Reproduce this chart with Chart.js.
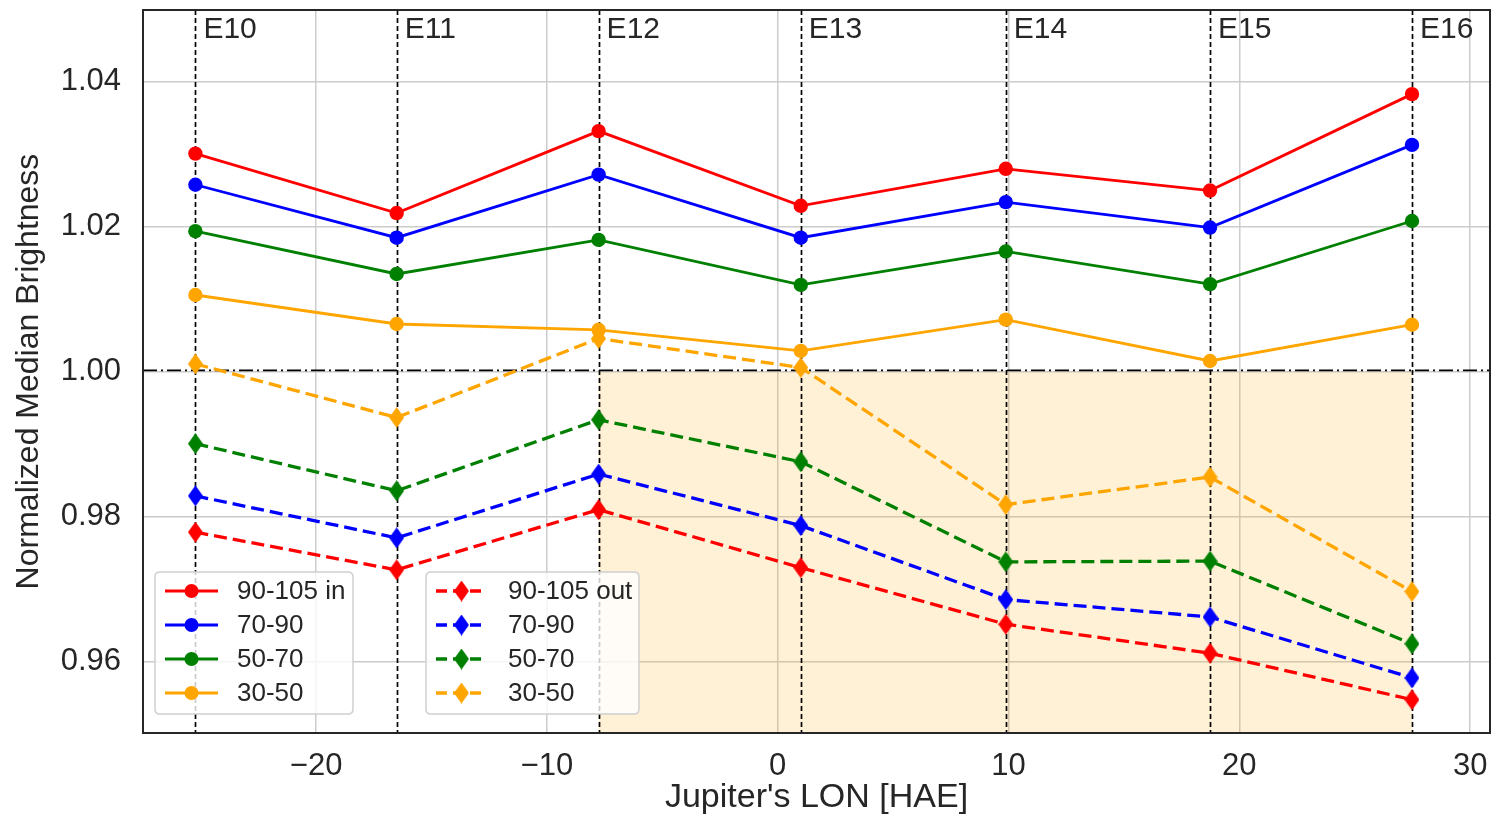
<!DOCTYPE html>
<html>
<head>
<meta charset="utf-8">
<script src="https://cdn.jsdelivr.net/npm/chart.js@4.4.0/dist/chart.umd.min.js"></script>
<style>
  body { margin: 0; background: #fff; }
  canvas { display: block; }
</style>
</head>
<body>
<canvas id="brightness-chart" width="1491" height="818"></canvas>
<script>
// flyby longitudes and names
var lon = [-25.23, -16.51, -7.76, 1.0, 9.88, 18.73, 27.48];
var flybys = ["E10", "E11", "E12", "E13", "E14", "E15", "E16"];

// inside (solid) series
var in90_105 = [1.0301, 1.0219, 1.0332, 1.0229, 1.0280, 1.0250, 1.0383];
var in70_90  = [1.0258, 1.0185, 1.0272, 1.0185, 1.0234, 1.0199, 1.0313];
var in50_70  = [1.0194, 1.0135, 1.0182, 1.0120, 1.0166, 1.0121, 1.0208];
var in30_50  = [1.0106, 1.0066, 1.0058, 1.0029, 1.0072, 1.0015, 1.0065];

// outside (dashed) series
var out90_105 = [0.9779, 0.9727, 0.9810, 0.9730, 0.9652, 0.9612, 0.9548];
var out70_90  = [0.9829, 0.9771, 0.9859, 0.9788, 0.9686, 0.9662, 0.9578];
var out50_70  = [0.9901, 0.9836, 0.9934, 0.9876, 0.9738, 0.9739, 0.9625];
var out30_50  = [1.0011, 0.9937, 1.0046, 1.0006, 0.9817, 0.9855, 0.9697];

var inLabels  = ["90-105 in", "70-90", "50-70", "30-50"];
var outLabels = ["90-105 out", "70-90", "50-70", "30-50"];
var colors = ["#ff0000", "#0000ff", "#008000", "#ffa500"];

var xTicks = [-20, -10, 0, 10, 20, 30];
var yTicks = [0.96, 0.98, 1.00, 1.02, 1.04];
var shadeFrom = 2, shadeTo = 6;   // index range of the shaded band below 1.0

var FONT = "'Liberation Sans', Arial, sans-serif";
var TXT = "#262626";
var DASH = [13, 6];

function toPoints(vals) {
    return vals.map(function (v, i) { return { x: lon[i], y: v }; });
}

// thin diamond marker like matplotlib 'd'
function makeDiamond(color) {
    var c = document.createElement("canvas");
    c.width = 15; c.height = 21;
    var g = c.getContext("2d");
    g.fillStyle = color;
    g.beginPath();
    g.moveTo(7.5, 0); g.lineTo(15, 10.5); g.lineTo(7.5, 21); g.lineTo(0, 10.5);
    g.closePath();
    g.fill();
    return c;
}
var diamonds = colors.map(makeDiamond);

var inSeries = [in90_105, in70_90, in50_70, in30_50];
var outSeries = [out90_105, out70_90, out50_70, out30_50];

var datasets = [];
inSeries.forEach(function (s, i) {
    datasets.push({
        label: inLabels[i],
        data: toPoints(s),
        borderColor: colors[i],
        backgroundColor: colors[i],
        borderWidth: 2.8,
        pointRadius: 7.2,
        pointHoverRadius: 7.2,
        pointStyle: "circle",
        pointBorderWidth: 0
    });
});
outSeries.forEach(function (s, i) {
    datasets.push({
        label: outLabels[i],
        data: toPoints(s),
        borderColor: colors[i],
        backgroundColor: colors[i],
        borderWidth: 3.3,
        borderDash: DASH,
        pointStyle: diamonds[i],
        pointRadius: 8,
        pointHoverRadius: 8
    });
});

// shading, flyby lines, unity line
var backdrop = {
    id: "backdrop",
    beforeDatasetsDraw: function (chart) {
        var ctx = chart.ctx, a = chart.chartArea;
        var xs = chart.scales.x, ys = chart.scales.y;
        ctx.save();
        ctx.beginPath();
        ctx.rect(a.left, a.top, a.right - a.left, a.bottom - a.top);
        ctx.clip();

        var x0 = xs.getPixelForValue(lon[shadeFrom]);
        var x1 = xs.getPixelForValue(lon[shadeTo]);
        var y1 = ys.getPixelForValue(1.0);
        ctx.fillStyle = "rgba(255,165,0,0.16)";
        ctx.fillRect(x0, y1, x1 - x0, a.bottom - y1);

        ctx.strokeStyle = "#000";
        ctx.lineWidth = 1.7;
        ctx.setLineDash([5, 3]);
        lon.forEach(function (v) {
            var px = Math.round(xs.getPixelForValue(v)) + 0.5;
            ctx.beginPath();
            ctx.moveTo(px, a.top);
            ctx.lineTo(px, a.bottom);
            ctx.stroke();
        });

        ctx.setLineDash([14, 4, 2, 4]);
        ctx.lineWidth = 1.6;
        ctx.beginPath();
        ctx.moveTo(a.left, y1 - 1.5);
        ctx.lineTo(a.right, y1 - 1.5);
        ctx.stroke();
        ctx.restore();

        ctx.save();
        ctx.fillStyle = TXT;
        ctx.font = "30px " + FONT;
        ctx.textBaseline = "middle";
        ctx.textAlign = "left";
        lon.forEach(function (v, i) {
            ctx.fillText(flybys[i], xs.getPixelForValue(v) + 8, a.top + 20);
        });
        ctx.restore();
    },
    afterDraw: function (chart) {
        var ctx = chart.ctx, a = chart.chartArea;
        ctx.save();
        // two legend boxes
        drawLegend(ctx, a.left + 12, a.bottom - 161, 198, inLabels, false);
        drawLegend(ctx, a.left + 283, a.bottom - 161, 213, outLabels, true);
        // frame
        ctx.strokeStyle = TXT;
        ctx.lineWidth = 2;
        ctx.setLineDash([]);
        ctx.strokeRect(a.left, a.top, a.right - a.left, a.bottom - a.top);
        ctx.restore();
    }
};

function roundRect(ctx, x, y, w, h, r) {
    ctx.beginPath();
    ctx.moveTo(x + r, y);
    ctx.lineTo(x + w - r, y);
    ctx.quadraticCurveTo(x + w, y, x + w, y + r);
    ctx.lineTo(x + w, y + h - r);
    ctx.quadraticCurveTo(x + w, y + h, x + w - r, y + h);
    ctx.lineTo(x + r, y + h);
    ctx.quadraticCurveTo(x, y + h, x, y + h - r);
    ctx.lineTo(x, y + r);
    ctx.quadraticCurveTo(x, y, x + r, y);
    ctx.closePath();
}

function drawLegend(ctx, x, y, w, labels, dashed) {
    var h = 142;
    roundRect(ctx, x, y, w, h, 5);
    ctx.fillStyle = "rgba(255,255,255,0.8)";
    ctx.fill();
    ctx.strokeStyle = "#d0d0d0";
    ctx.lineWidth = 1.5;
    ctx.setLineDash([]);
    ctx.stroke();

    labels.forEach(function (lab, i) {
        var ry = y + 19 + i * 34;
        var lx0 = x + 10, lx1 = x + (dashed ? 61 : 63);
        var mx = (lx0 + lx1) / 2;
        ctx.strokeStyle = colors[i];
        ctx.lineWidth = dashed ? 3.3 : 2.8;
        ctx.setLineDash(dashed ? [11, 6] : []);
        ctx.beginPath();
        ctx.moveTo(lx0, ry);
        ctx.lineTo(lx1, ry);
        ctx.stroke();
        ctx.setLineDash([]);
        if (dashed) {
            ctx.drawImage(diamonds[i], mx - 7.5, ry - 10.5);
        } else {
            ctx.fillStyle = colors[i];
            ctx.beginPath();
            ctx.arc(mx, ry, 7, 0, Math.PI * 2);
            ctx.fill();
        }
        ctx.fillStyle = TXT;
        ctx.font = "26px " + FONT;
        ctx.textBaseline = "middle";
        ctx.textAlign = "left";
        ctx.fillText(lab, x + 82, ry + 1);
    });
}

function noPad(s) {
    s.paddingTop = 0; s.paddingBottom = 0;
    s.paddingLeft = 0; s.paddingRight = 0;
}

var chartOptions = {
    responsive: false,
    animation: false,
    layout: { autoPadding: false, padding: { top: 10, right: 1, left: 0, bottom: 0 } },
    plugins: {
        legend: { display: false },
        tooltip: { enabled: false }
    },
    scales: {
        x: {
            type: "linear",
            min: -27.5,
            max: 30.86,
            afterBuildTicks: function (s) { s.ticks = xTicks.map(function (v) { return { value: v }; }); },
            afterFit: function (s) { s.height = 85; noPad(s); },
            grid: { color: "#cccccc", lineWidth: 1.5, drawTicks: false },
            border: { display: false },
            ticks: {
                color: TXT,
                padding: 15,
                font: { family: FONT, size: 31 },
                callback: function (v) { return String(v).replace("-", "\u2212"); }
            },
            title: {
                display: true,
                text: "Jupiter's LON [HAE]",
                color: TXT,
                font: { family: FONT, size: 34 },
                padding: { top: 0, bottom: 0 }
            }
        },
        y: {
            min: 0.9502,
            max: 1.0499,
            afterBuildTicks: function (s) { s.ticks = yTicks.map(function (v) { return { value: v }; }); },
            afterFit: function (s) { s.width = 143; noPad(s); },
            grid: { color: "#cccccc", lineWidth: 1.5, drawTicks: false },
            border: { display: false },
            ticks: {
                color: TXT,
                padding: 22,
                font: { family: FONT, size: 31 },
                callback: function (v) { return Number(v).toFixed(2); }
            },
            title: {
                display: true,
                text: "Normalized Median Brightness",
                color: TXT,
                font: { family: FONT, size: 32 },
                padding: { top: 10, bottom: 0 }
            }
        }
    }
};

var ctx = document.getElementById("brightness-chart");
var brightnessChart = new Chart(ctx, {
    type: "line",
    data: { datasets: datasets },
    options: chartOptions,
    plugins: [backdrop]
});
</script>
</body>
</html>
